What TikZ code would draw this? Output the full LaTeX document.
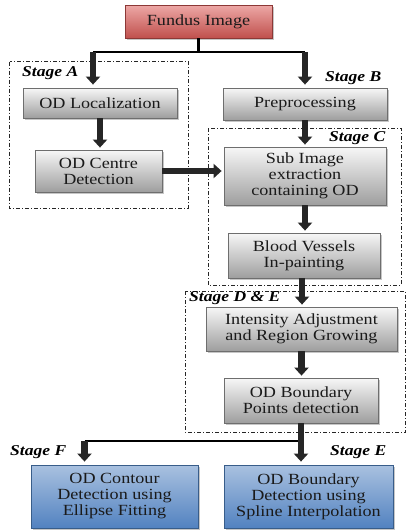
\documentclass[tikz,border=0pt]{standalone}
\usepackage{fontspec}
\setmainfont{Liberation Serif}[FakeStretch=1.17]
\usetikzlibrary{arrows.meta,shadows}
\definecolor{redtop}{HTML}{EDA8A6}
\definecolor{redbot}{HTML}{C0504D}
\definecolor{redline}{HTML}{8C3836}
\definecolor{graytop}{HTML}{F7F7F7}
\definecolor{graybot}{HTML}{9E9E9E}
\definecolor{grayline}{HTML}{6E6E6E}
\definecolor{bluetop}{HTML}{A9C1E0}
\definecolor{bluebot}{HTML}{5282C0}
\definecolor{blueline}{HTML}{385D8A}
\definecolor{arrowc}{HTML}{262626}
\definecolor{txt}{HTML}{1A1A1A}
\tikzset{
  box/.style={draw=grayline, line width=0.8pt, top color=graytop, bottom color=graybot,
    align=center, inner sep=1pt, text=txt, font=\fontsize{15.5}{16}\selectfont,
    drop shadow={shadow xshift=1.5pt, shadow yshift=-1.5pt, opacity=0.45}},
  redbox/.style={box, draw=redline, top color=redtop, bottom color=redbot},
  bluebox/.style={box, draw=blueline, top color=bluetop, bottom color=bluebot},
  blk/.style={draw=arrowc, line width=6.5pt, -{Triangle[width=14pt,length=8pt]}},
  joinline/.style={draw=black, line width=2.6pt},
  stagebox/.style={draw=black!85, line width=0.9pt, dash pattern=on 4pt off 2pt on 1pt off 2pt},
  stagelbl/.style={font=\fontsize{15}{16}\selectfont\bfseries\itshape, inner sep=0pt, anchor=west}
}
\begin{document}
\begin{tikzpicture}[x=1pt,y=-1pt]
\useasboundingbox (0,0) rectangle (407,531);
% nodes
\node[redbox, minimum width=147pt, minimum height=33pt] (fundus) at (198.5,21.5) {Fundus Image};
\node[box, minimum width=154pt, minimum height=30pt] (loc) at (100,103) {OD Localization};
\node[box, minimum width=127pt, minimum height=42pt] (centre) at (98.5,171) {OD Centre\\Detection};
\node[box, minimum width=164pt, minimum height=32pt] (pre) at (305,104) {Preprocessing};
\node[box, minimum width=162pt, minimum height=58pt] (sub) at (305,176) {Sub Image\\extraction\\containing OD};
\node[box, minimum width=152pt, minimum height=45pt] (blood) at (304,255.5) {Blood Vessels\\In-painting};
\node[box, minimum width=191pt, minimum height=44pt] (inten) at (301.5,329) {Intensity Adjustment\\and Region Growing};
\node[box, minimum width=154pt, minimum height=45pt] (bound) at (301,400.5) {OD Boundary\\Points detection};
\node[bluebox, minimum width=167pt, minimum height=63pt] (contour) at (114.5,496.5) {OD Contour\\Detection using\\Ellipse Fitting};
\node[bluebox, minimum width=169pt, minimum height=63pt] (spline) at (308.5,496.5) {OD Boundary\\Detection using\\Spline Interpolation};
% junctions
\coordinate (j1) at (197,52);
\coordinate (j2) at (302,441);
% connectors from fundus
\draw[joinline] (fundus.south) -- (fundus.south |- j1);
\draw[joinline] ([xshift=-7pt]loc.north |- j1) -- (pre.north |- j1);
\draw[blk, shorten >=3pt] ([xshift=-7pt]loc.north |- j1) -- ([xshift=-7pt]loc.north);
\draw[blk, shorten >=3pt] (pre.north |- j1) -- (pre.north);
% stage A/B/C arrows
\draw[blk, shorten >=2pt] (loc.south) -- (loc.south |- centre.north);
\draw[blk, shorten >=2pt] (centre.east) -- (centre.east -| sub.west);
\draw[blk, shorten >=2pt] (pre.south) -- (pre.south |- sub.north);
\draw[blk, shorten >=2pt] (sub.south) -- (sub.south |- blood.north);
\draw[blk, shorten >=2pt] ([xshift=-2pt]blood.south) -- ([xshift=-2pt]blood.south |- inten.north);
\draw[blk, shorten >=2pt] (inten.south) -- (inten.south |- bound.north);
% bottom split
\draw[joinline] ([xshift=-30pt]contour.north |- j2) -- (bound.south |- j2);
\draw[blk, shorten >=3pt] ([xshift=-30pt]contour.north |- j2) -- ([xshift=-30pt]contour.north);
\draw[blk, shorten >=3pt] (bound.south) -- (bound.south |- spline.north);
% stage boxes
\draw[stagebox] (9.5,61.5) rectangle (188,208);
\draw[stagebox] (208,128) rectangle (401,285);
\draw[stagebox] (185,291) rectangle (405.5,432);
% stage labels
\node[stagelbl] (sa) at (22,73) {Stage A};
\node[stagelbl] (sb) at (325,78) {Stage B};
\node[stagelbl] (sc) at (329,138) {Stage C};
\node[stagelbl] (sde) at (189,298) {Stage D \& E};
\node[stagelbl] (sf) at (10,452) {Stage F};
\node[stagelbl] (se) at (330,452) {Stage E};
\end{tikzpicture}
\end{document}
